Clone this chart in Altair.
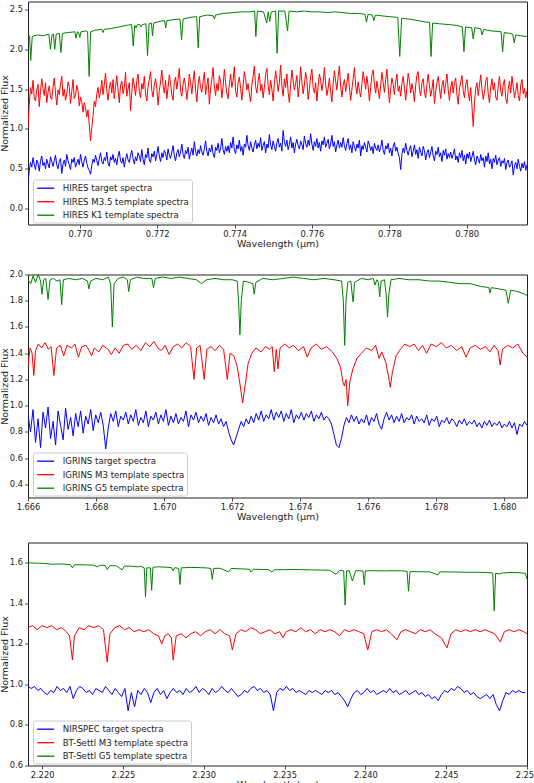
import altair as alt
import pandas as pd
import numpy as np

FONT = "DejaVu Sans"
COLORS = ["#0000ff", "#ff0000", "#008000"]
TXT = "#222222"

# ---------------- Panel 1 : HIRES ----------------
hires_names = ["HIRES target spectra", "HIRES M3.5 template spectra", "HIRES K1 template spectra"]
hires_xdom = [0.76866, 0.78156]
hires_ydom = [-0.2, 2.6]
hires_xticks = [0.770, 0.772, 0.774, 0.776, 0.778, 0.780]
hires_yticks = [0.0, 0.5, 1.0, 1.5, 2.0, 2.5]

hires_target = [
    0.33, 0.48, 0.58, 0.52, 0.64, 0.55, 0.49, 0.61, 0.57, 0.47, 0.60, 0.66, 0.54, 0.58, 0.50, 0.62, 0.56, 0.51, 0.65, 0.59,
    0.53, 0.60, 0.67, 0.55, 0.50, 0.59, 0.63, 0.44, 0.56, 0.61, 0.53, 0.68, 0.60, 0.55, 0.49, 0.62, 0.58, 0.64, 0.52, 0.57,
    0.62, 0.55, 0.68, 0.59, 0.52, 0.61, 0.66, 0.57, 0.51, 0.48, 0.43, 0.54, 0.62, 0.58, 0.67, 0.60, 0.54, 0.63, 0.70, 0.59,
    0.56, 0.64, 0.60, 0.71, 0.57, 0.53, 0.65, 0.61, 0.68, 0.58, 0.63, 0.55, 0.66, 0.72, 0.60, 0.57, 0.64, 0.52, 0.62, 0.69,
    0.61, 0.58, 0.67, 0.73, 0.63, 0.56, 0.65, 0.60, 0.70, 0.66, 0.59, 0.74, 0.62, 0.55, 0.68, 0.64, 0.76, 0.61, 0.58, 0.69,
    0.65, 0.72, 0.60, 0.68, 0.78, 0.66, 0.59, 0.70, 0.64, 0.73, 0.69, 0.61, 0.75, 0.67, 0.63, 0.71, 0.79, 0.66, 0.60, 0.70,
    0.74, 0.65, 0.71, 0.81, 0.68, 0.63, 0.73, 0.69, 0.77, 0.62, 0.70, 0.76, 0.67, 0.84, 0.72, 0.66, 0.74, 0.69, 0.79, 0.71,
    0.67, 0.75, 0.85, 0.72, 0.66, 0.76, 0.71, 0.80, 0.69, 0.64, 0.77, 0.73, 0.82, 0.70, 0.75, 0.88, 0.74, 0.68, 0.78, 0.72,
    0.79, 0.70, 0.83, 0.76, 0.90, 0.74, 0.69, 0.80, 0.75, 0.86, 0.72, 0.78, 0.67, 0.81, 0.77, 0.92, 0.79, 0.73, 0.84, 0.76,
    0.71, 0.80, 0.86, 0.75, 0.82, 0.77, 0.89, 0.73, 0.79, 0.84, 0.70, 0.81, 0.76, 0.93, 0.80, 0.74, 0.85, 0.78, 0.72, 0.83,
    0.88, 0.77, 0.82, 0.72, 0.98, 0.84, 0.78, 0.86, 0.74, 0.80, 0.90, 0.76, 0.83, 0.70, 0.81, 0.87, 0.79, 0.75, 0.85, 0.80,
    0.74, 0.91, 0.82, 0.77, 0.86, 0.79, 0.94, 0.81, 0.73, 0.84, 0.78, 0.88, 0.76, 0.83, 0.72, 0.85, 0.80, 0.90, 0.77, 0.82,
    0.87, 0.75, 0.81, 0.92, 0.78, 0.84, 0.71, 0.80, 0.86, 0.76, 0.83, 0.77, 0.89, 0.79, 0.73, 0.82, 0.88, 0.74, 0.80, 0.70,
    0.84, 0.78, 0.72, 0.81, 0.76, 0.86, 0.66, 0.79, 0.74, 0.83, 0.77, 0.71, 0.85, 0.80, 0.73, 0.78, 0.69, 0.82, 0.76, 0.73,
    0.80, 0.71, 0.77, 0.86, 0.73, 0.68, 0.79, 0.75, 0.82, 0.70, 0.76, 0.66, 0.78, 0.83, 0.72, 0.77, 0.69, 0.64, 0.49, 0.68,
    0.76, 0.70, 0.82, 0.73, 0.67, 0.75, 0.79, 0.65, 0.72, 0.80, 0.68, 0.74, 0.63, 0.77, 0.71, 0.66, 0.78, 0.73, 0.61, 0.70,
    0.74, 0.64, 0.71, 0.78, 0.66, 0.60, 0.72, 0.68, 0.77, 0.65, 0.70, 0.59, 0.73, 0.67, 0.75, 0.62, 0.69, 0.64, 0.71, 0.63,
    0.68, 0.75, 0.61, 0.66, 0.58, 0.70, 0.64, 0.73, 0.60, 0.67, 0.56, 0.69, 0.63, 0.71, 0.59, 0.65, 0.72, 0.61, 0.55, 0.66,
    0.62, 0.57, 0.68, 0.60, 0.64, 0.52, 0.66, 0.59, 0.70, 0.56, 0.62, 0.50, 0.63, 0.58, 0.67, 0.55, 0.61, 0.64, 0.53, 0.60,
    0.57, 0.63, 0.49, 0.58, 0.61, 0.52, 0.55, 0.60, 0.42, 0.54, 0.58, 0.50, 0.62, 0.53, 0.47, 0.57, 0.51, 0.59, 0.48, 0.55,
]

hires_m35 = [
    1.02, 1.31, 1.52, 1.44, 1.61, 1.39, 1.35, 1.49, 1.56, 1.28, 1.47, 1.63, 1.51, 1.42, 1.58, 1.33, 1.46, 1.54, 1.40, 1.37,
    1.52, 1.64, 1.45, 1.30, 1.49, 1.43, 1.57, 1.66, 1.41, 1.50, 1.36, 1.44, 1.59, 1.53, 1.32, 1.47, 1.62, 1.38, 1.42, 1.55,
    1.48, 1.29, 1.40, 1.34, 1.21, 1.33, 1.27, 1.15, 1.24, 1.05, 0.85, 1.02, 1.16, 1.35, 1.28, 1.44, 1.52, 1.39, 1.47, 1.61,
    1.43, 1.56, 1.70, 1.48, 1.36, 1.51, 1.59, 1.45, 1.62, 1.38, 1.53, 1.67, 1.49, 1.33, 1.55, 1.60, 1.44, 1.52, 1.71, 1.41,
    1.50, 1.58, 1.23, 1.46, 1.64, 1.54, 1.42, 1.61, 1.69, 1.47, 1.39, 1.57, 1.50, 1.66, 1.44, 1.35, 1.53, 1.62, 1.72, 1.48,
    1.40, 1.56, 1.63, 1.51, 1.30, 1.48, 1.59, 1.74, 1.55, 1.45, 1.61, 1.38, 1.52, 1.68, 1.57, 1.43, 1.36, 1.58, 1.65, 1.50,
    1.62, 1.76, 1.47, 1.41, 1.56, 1.64, 1.53, 1.37, 1.50, 1.69, 1.58, 1.44, 1.60, 1.73, 1.49, 1.34, 1.55, 1.66, 1.52, 1.46,
    1.59, 1.71, 1.43, 1.55, 1.64, 1.31, 1.50, 1.62, 1.77, 1.54, 1.42, 1.57, 1.48, 1.67, 1.60, 1.39, 1.53, 1.75, 1.58, 1.45,
    1.38, 1.56, 1.69, 1.52, 1.61, 1.78, 1.47, 1.40, 1.58, 1.65, 1.51, 1.36, 1.54, 1.72, 1.63, 1.49, 1.57, 1.44, 1.34, 1.55,
    1.66, 1.79, 1.53, 1.45, 1.60, 1.70, 1.48, 1.56, 1.39, 1.52, 1.68, 1.76, 1.55, 1.43, 1.61, 1.50, 1.35, 1.57, 1.73, 1.62,
    1.47, 1.58, 1.80, 1.54, 1.41, 1.63, 1.52, 1.69, 1.46, 1.33, 1.56, 1.74, 1.60, 1.49, 1.57, 1.67, 1.40, 1.53, 1.78, 1.59,
    1.44, 1.55, 1.71, 1.62, 1.37, 1.50, 1.66, 1.75, 1.52, 1.45, 1.58, 1.35, 1.54, 1.69, 1.61, 1.48, 1.59, 1.77, 1.56, 1.42,
    1.51, 1.64, 1.46, 1.34, 1.57, 1.73, 1.60, 1.49, 1.66, 1.79, 1.53, 1.40, 1.55, 1.62, 1.47, 1.58, 1.70, 1.52, 1.36, 1.50,
    1.63, 1.77, 1.55, 1.44, 1.59, 1.48, 1.40, 1.57, 1.72, 1.61, 1.50, 1.66, 1.53, 1.35, 1.52, 1.68, 1.74, 1.56, 1.45, 1.60,
    1.49, 1.38, 1.55, 1.71, 1.58, 1.46, 1.62, 1.75, 1.52, 1.33, 1.50, 1.64, 1.56, 1.43, 1.59, 1.69, 1.47, 1.54, 1.41, 1.57,
    1.66, 1.51, 1.36, 1.53, 1.70, 1.60, 1.45, 1.57, 1.48, 1.34, 1.55, 1.68, 1.72, 1.50, 1.42, 1.58, 1.63, 1.46, 1.39, 1.56,
    1.69, 1.54, 1.41, 1.50, 1.62, 1.32, 1.47, 1.58, 1.66, 1.52, 1.38, 1.55, 1.61, 1.44, 1.57, 1.69, 1.49, 1.36, 1.52, 1.60,
    1.45, 1.58, 1.64, 1.43, 1.31, 1.50, 1.59, 1.67, 1.48, 1.39, 1.56, 1.62, 1.46, 1.35, 1.52, 1.28, 1.03, 1.33, 1.51, 1.58,
    1.42, 1.55, 1.68, 1.50, 1.37, 1.46, 1.60, 1.65, 1.44, 1.33, 1.53, 1.63, 1.49, 1.58, 1.40, 1.36, 1.54, 1.66, 1.47, 1.41,
    1.56, 1.62, 1.38, 1.32, 1.50, 1.60, 1.45, 1.66, 1.53, 1.39, 1.47, 1.58, 1.42, 1.35, 1.55, 1.62, 1.44, 1.51, 1.39, 1.48,
]

hires_k1 = [
    (0.76866, 2.15), (0.76870, 2.17), (0.76873, 1.86), (0.76877, 2.16), (0.76890, 2.18),
    (0.76905, 2.17), (0.76920, 2.19), (0.76924, 2.00), (0.76928, 2.18), (0.76932, 2.19),
    (0.76935, 2.00), (0.76939, 2.19), (0.76947, 2.20), (0.76951, 1.96), (0.76955, 2.20),
    (0.76970, 2.21), (0.76987, 2.22), (0.76990, 2.14), (0.76994, 2.22), (0.76997, 2.21),
    (0.77000, 2.15), (0.77003, 2.22), (0.77015, 2.23), (0.77020, 2.22), (0.77024, 1.66),
    (0.77028, 2.22), (0.77040, 2.24), (0.77057, 2.25), (0.77060, 2.21), (0.77063, 2.25),
    (0.77080, 2.26), (0.77100, 2.28), (0.77120, 2.30), (0.77134, 2.31), (0.77138, 2.04),
    (0.77142, 2.30), (0.77145, 2.27), (0.77149, 2.31), (0.77155, 2.31), (0.77158, 2.28),
    (0.77161, 2.31), (0.77171, 2.32), (0.77175, 1.92), (0.77179, 2.32), (0.77185, 2.33),
    (0.77188, 2.17), (0.77191, 2.33), (0.77205, 2.35), (0.77219, 2.36), (0.77222, 2.27),
    (0.77225, 2.36), (0.77240, 2.37), (0.77259, 2.38), (0.77263, 2.12), (0.77267, 2.38),
    (0.77285, 2.40), (0.77302, 2.41), (0.77306, 2.02), (0.77310, 2.41), (0.77330, 2.43),
    (0.77345, 2.42), (0.77348, 2.38), (0.77351, 2.43), (0.77370, 2.45), (0.77395, 2.46),
    (0.77420, 2.47), (0.77440, 2.47), (0.77452, 2.48), (0.77455, 2.16), (0.77459, 2.48),
    (0.77475, 2.47), (0.77483, 2.33), (0.77487, 2.47), (0.77491, 2.35), (0.77495, 2.47),
    (0.77506, 2.48), (0.77510, 1.95), (0.77514, 2.48), (0.77530, 2.48), (0.77537, 2.23),
    (0.77541, 2.48), (0.77560, 2.47), (0.77580, 2.48), (0.77600, 2.47), (0.77620, 2.47),
    (0.77640, 2.46), (0.77660, 2.47), (0.77680, 2.46), (0.77700, 2.45), (0.77720, 2.45),
    (0.77737, 2.44), (0.77741, 2.34), (0.77745, 2.44), (0.77756, 2.43), (0.77760, 2.36),
    (0.77764, 2.43), (0.77780, 2.42), (0.77800, 2.41), (0.77822, 2.40), (0.77827, 1.91),
    (0.77832, 2.39), (0.77850, 2.38), (0.77875, 2.36), (0.77895, 2.34), (0.77904, 2.34),
    (0.77908, 1.91), (0.77912, 2.33), (0.77930, 2.32), (0.77955, 2.31), (0.77975, 2.30),
    (0.77989, 2.28), (0.77993, 1.97), (0.77997, 2.28), (0.78013, 2.27), (0.78017, 2.13),
    (0.78021, 2.27), (0.78036, 2.26), (0.78040, 2.18), (0.78044, 2.25), (0.78065, 2.23),
    (0.78089, 2.22), (0.78093, 1.97), (0.78097, 2.21), (0.78110, 2.20), (0.78119, 2.19),
    (0.78123, 2.08), (0.78127, 2.18), (0.78140, 2.17), (0.78156, 2.16),
]

# ---------------- Panel 2 : IGRINS ----------------
igrins_names = ["IGRINS target spectra", "IGRINS M3 template spectra", "IGRINS G5 template spectra"]
igrins_xdom = [1.666, 1.68067]
igrins_ydom = [0.3, 2.0]
igrins_xticks = [1.666, 1.668, 1.670, 1.672, 1.674, 1.676, 1.678, 1.680]
igrins_yticks = [0.4, 0.6, 0.8, 1.0, 1.2, 1.4, 1.6, 1.8, 2.0]

igrins_target = [
    0.93, 0.80, 0.97, 0.72, 0.90, 0.68, 0.95, 0.83, 0.99, 0.75,
    0.88, 0.70, 0.96, 0.85, 0.74, 0.98, 0.82, 0.91, 0.77, 0.94,
    0.84, 0.96, 0.79, 0.92, 0.86, 0.97, 0.81, 0.93, 0.87, 0.95,
    0.85, 0.67, 0.83, 0.94, 0.88, 0.96, 0.84, 0.92, 0.89, 0.95,
    0.86, 0.93, 0.88, 0.97, 0.85, 0.91, 0.87, 0.96, 0.84, 0.92,
    0.89, 0.95, 0.86, 0.93, 0.88, 0.97, 0.85, 0.92, 0.87, 0.94,
    0.86, 0.91, 0.88, 0.96, 0.84, 0.93, 0.89, 0.95, 0.87, 0.92,
    0.88, 0.94, 0.85, 0.91, 0.87, 0.93, 0.86, 0.90, 0.84, 0.88,
    0.80, 0.74, 0.70, 0.76, 0.82, 0.88, 0.84, 0.90, 0.86, 0.92,
    0.87, 0.94, 0.89, 0.96, 0.88, 0.93, 0.90, 0.97, 0.89, 0.95,
    0.91, 0.96, 0.88, 0.94, 0.90, 0.97, 0.87, 0.93, 0.90, 0.95,
    0.89, 0.94, 0.91, 0.96, 0.88, 0.93, 0.90, 0.95, 0.89, 0.92,
    0.90, 0.86, 0.78, 0.70, 0.68, 0.75, 0.85, 0.91, 0.87, 0.93,
    0.88, 0.92, 0.86, 0.90, 0.87, 0.93, 0.85, 0.91, 0.88, 0.94,
    0.86, 0.82, 0.90, 0.95, 0.89, 0.93, 0.87, 0.92, 0.88, 0.94,
    0.87, 0.91, 0.89, 0.93, 0.86, 0.92, 0.88, 0.90, 0.87, 0.93,
    0.85, 0.90, 0.88, 0.92, 0.84, 0.89, 0.87, 0.91, 0.86, 0.90,
    0.88, 0.84, 0.89, 0.86, 0.90, 0.85, 0.88, 0.86, 0.89, 0.84,
    0.87, 0.83, 0.88, 0.85, 0.89, 0.84, 0.87, 0.85, 0.88, 0.83,
    0.86, 0.84, 0.88, 0.83, 0.87, 0.78, 0.86, 0.84, 0.88, 0.85,
]

igrins_m3 = [
    (1.66600, 1.30), (1.66606, 1.44), (1.66612, 1.40), (1.66617, 1.23), (1.66622, 1.42),
    (1.66630, 1.47), (1.66640, 1.44), (1.66650, 1.48), (1.66660, 1.43), (1.66668, 1.45),
    (1.66676, 1.23), (1.66684, 1.44), (1.66695, 1.46), (1.66705, 1.38), (1.66715, 1.46),
    (1.66728, 1.44), (1.66738, 1.47), (1.66748, 1.37), (1.66758, 1.45), (1.66770, 1.46),
    (1.66780, 1.42), (1.66787, 1.38), (1.66795, 1.44), (1.66808, 1.41), (1.66820, 1.46),
    (1.66835, 1.43), (1.66845, 1.39), (1.66856, 1.44), (1.66868, 1.40), (1.66880, 1.46),
    (1.66893, 1.47), (1.66905, 1.43), (1.66918, 1.46), (1.66932, 1.42), (1.66945, 1.48),
    (1.66958, 1.45), (1.66970, 1.49), (1.66982, 1.44), (1.66992, 1.42), (1.67003, 1.46),
    (1.67015, 1.39), (1.67027, 1.45), (1.67040, 1.47), (1.67052, 1.44), (1.67065, 1.48),
    (1.67078, 1.45), (1.67088, 1.20), (1.67096, 1.44), (1.67106, 1.46), (1.67118, 1.20),
    (1.67126, 1.43), (1.67138, 1.45), (1.67150, 1.42), (1.67163, 1.46), (1.67175, 1.43),
    (1.67186, 1.20), (1.67194, 1.40), (1.67205, 1.38), (1.67215, 1.30), (1.67224, 1.15),
    (1.67231, 1.02), (1.67238, 1.15), (1.67247, 1.32), (1.67258, 1.40), (1.67270, 1.44),
    (1.67285, 1.41), (1.67298, 1.45), (1.67310, 1.43), (1.67318, 1.45), (1.67324, 1.26),
    (1.67330, 1.43), (1.67335, 1.28), (1.67341, 1.44), (1.67355, 1.47), (1.67368, 1.44),
    (1.67380, 1.46), (1.67395, 1.42), (1.67410, 1.45), (1.67421, 1.37), (1.67432, 1.44),
    (1.67448, 1.47), (1.67462, 1.43), (1.67478, 1.45), (1.67495, 1.41), (1.67508, 1.36),
    (1.67518, 1.30), (1.67526, 1.18), (1.67530, 1.15), (1.67535, 1.20), (1.67540, 1.00),
    (1.67546, 1.18), (1.67555, 1.28), (1.67567, 1.36), (1.67580, 1.40), (1.67595, 1.44),
    (1.67610, 1.42), (1.67622, 1.46), (1.67632, 1.36), (1.67640, 1.41), (1.67652, 1.33),
    (1.67660, 1.22), (1.67665, 1.14), (1.67671, 1.25), (1.67682, 1.38), (1.67695, 1.43),
    (1.67708, 1.47), (1.67722, 1.45), (1.67735, 1.47), (1.67748, 1.42), (1.67760, 1.46),
    (1.67772, 1.40), (1.67785, 1.47), (1.67800, 1.45), (1.67815, 1.48), (1.67830, 1.44),
    (1.67845, 1.46), (1.67860, 1.42), (1.67875, 1.45), (1.67888, 1.37), (1.67900, 1.44),
    (1.67915, 1.46), (1.67930, 1.43), (1.67945, 1.45), (1.67958, 1.41), (1.67970, 1.46),
    (1.67982, 1.42), (1.67988, 1.31), (1.67995, 1.43), (1.68010, 1.46), (1.68025, 1.44),
    (1.68040, 1.47), (1.68055, 1.40), (1.68067, 1.37),
]

igrins_g5 = [
    (1.66600, 1.96), (1.66608, 1.93), (1.66615, 1.99), (1.66622, 1.94), (1.66630, 2.00),
    (1.66637, 1.95), (1.66641, 1.85), (1.66646, 1.96), (1.66652, 1.97), (1.66659, 1.81),
    (1.66665, 1.96), (1.66675, 1.97), (1.66685, 1.95), (1.66694, 1.96), (1.66699, 1.77),
    (1.66704, 1.96), (1.66720, 1.97), (1.66740, 1.96), (1.66760, 1.97), (1.66775, 1.95),
    (1.66779, 1.89), (1.66784, 1.95), (1.66800, 1.97), (1.66820, 1.96), (1.66836, 1.98),
    (1.66843, 1.93), (1.66848, 1.60), (1.66853, 1.93), (1.66865, 1.97), (1.66880, 1.98),
    (1.66892, 1.96), (1.66896, 1.87), (1.66901, 1.96), (1.66920, 1.98), (1.66940, 1.97),
    (1.66964, 1.97), (1.66969, 1.90), (1.66974, 1.97), (1.66995, 1.98), (1.67020, 1.97),
    (1.67045, 1.98), (1.67070, 1.97), (1.67095, 1.96), (1.67110, 1.93), (1.67125, 1.96),
    (1.67150, 1.97), (1.67175, 1.96), (1.67200, 1.96), (1.67215, 1.95), (1.67219, 1.80),
    (1.67223, 1.54), (1.67227, 1.80), (1.67233, 1.95), (1.67250, 1.94), (1.67261, 1.93),
    (1.67265, 1.85), (1.67270, 1.94), (1.67290, 1.97), (1.67320, 1.96), (1.67350, 1.97),
    (1.67380, 1.98), (1.67410, 1.97), (1.67440, 1.96), (1.67470, 1.97), (1.67500, 1.96),
    (1.67522, 1.95), (1.67527, 1.80), (1.67531, 1.46), (1.67535, 1.80), (1.67540, 1.94),
    (1.67549, 1.95), (1.67553, 1.85), (1.67556, 1.79), (1.67560, 1.94), (1.67580, 1.97),
    (1.67600, 1.96), (1.67615, 1.97), (1.67620, 1.92), (1.67626, 1.96), (1.67630, 1.94),
    (1.67634, 1.83), (1.67638, 1.95), (1.67648, 1.96), (1.67653, 1.85), (1.67657, 1.675),
    (1.67661, 1.85), (1.67667, 1.96), (1.67690, 1.97), (1.67720, 1.96), (1.67750, 1.96),
    (1.67780, 1.95), (1.67810, 1.95), (1.67840, 1.94), (1.67870, 1.93), (1.67900, 1.93),
    (1.67930, 1.91), (1.67955, 1.90), (1.67958, 1.86), (1.67962, 1.90), (1.67985, 1.89),
    (1.68005, 1.88), (1.68012, 1.78), (1.68019, 1.88), (1.68040, 1.87), (1.68060, 1.85),
    (1.68067, 1.84),
]

# ---------------- Panel 3 : NIRSPEC / BT-Settl ----------------
nirspec_names = ["NIRSPEC target spectra", "BT-Settl M3 template spectra", "BT-Settl G5 template spectra"]
nirspec_xdom = [2.21913, 2.2500]
nirspec_ydom = [0.6, 1.7]
nirspec_xticks = [2.220, 2.225, 2.230, 2.235, 2.240, 2.245, 2.250]
nirspec_yticks = [0.6, 0.8, 1.0, 1.2, 1.4, 1.6]
nirspec_grid = [2.21913, 2.2499]

nirspec_target = [
    0.99, 0.98, 0.99, 0.97, 0.98, 0.96, 0.95, 0.97, 0.96, 0.99,
    0.97, 0.98, 0.96, 0.99, 0.93, 0.97, 0.99, 0.98, 0.96, 0.97,
    0.95, 0.98, 0.97, 0.96, 0.99, 0.97, 0.95, 0.98, 0.96, 0.94,
    0.98, 0.87, 0.96, 0.89, 0.97, 0.95, 0.98, 0.96, 0.91, 0.96,
    0.98, 0.95, 0.97, 0.93, 0.96, 0.98, 0.96, 0.97, 0.95, 0.98,
    0.96, 0.97, 0.99, 0.96, 0.98, 0.97, 0.95, 0.98, 0.96, 0.97,
    0.99, 0.97, 0.96, 0.98, 0.96, 0.94, 0.95, 0.97, 0.96, 0.98,
    0.99, 0.97, 0.98, 0.96, 0.97, 0.95, 0.87, 0.96, 0.98, 0.97,
    0.99, 0.97, 0.98, 0.96, 0.97, 0.96, 0.95, 0.97, 0.96, 0.97,
    0.96, 0.95, 0.97, 0.96, 0.97, 0.95, 0.96, 0.94, 0.92, 0.89,
    0.93, 0.96, 0.97, 0.95, 0.96, 0.98, 0.96, 0.97, 0.95, 0.96,
    0.97, 0.96, 0.98, 0.96, 0.97, 0.95, 0.96, 0.97, 0.95, 0.96,
    0.97, 0.95, 0.96, 0.94, 0.95, 0.93, 0.94, 0.92, 0.95, 0.97,
    0.96, 0.98, 0.97, 0.99, 0.98, 0.96, 0.97, 0.95, 0.96, 0.94,
    0.93, 0.94, 0.95, 0.93, 0.95, 0.90, 0.87, 0.92, 0.96, 0.95,
    0.97, 0.96, 0.97, 0.96, 0.96,
]

nirspec_m3 = [
    (2.21913, 1.28), (2.2194, 1.29), (2.2197, 1.27), (2.2200, 1.29), (2.2203, 1.28),
    (2.2206, 1.29), (2.2209, 1.27), (2.2212, 1.28), (2.2215, 1.26), (2.2217, 1.24),
    (2.22188, 1.12), (2.2220, 1.24), (2.2223, 1.28), (2.2226, 1.27), (2.2229, 1.29),
    (2.2232, 1.28), (2.2235, 1.29), (2.2238, 1.27), (2.22403, 1.11), (2.2242, 1.25),
    (2.2245, 1.28), (2.2248, 1.29), (2.2251, 1.27), (2.2254, 1.28), (2.2257, 1.26),
    (2.2260, 1.27), (2.2263, 1.26), (2.2266, 1.27), (2.2269, 1.25), (2.2272, 1.24),
    (2.2274, 1.20), (2.2276, 1.24), (2.2278, 1.25), (2.2280, 1.23), (2.22811, 1.12),
    (2.2283, 1.24), (2.2286, 1.25), (2.2289, 1.23), (2.2292, 1.25), (2.2295, 1.26),
    (2.2298, 1.24), (2.2301, 1.26), (2.2304, 1.27), (2.2307, 1.25), (2.2310, 1.27),
    (2.2313, 1.25), (2.2316, 1.24), (2.23177, 1.17), (2.2320, 1.25), (2.2323, 1.27),
    (2.2326, 1.26), (2.2329, 1.28), (2.2332, 1.27), (2.2335, 1.25), (2.2338, 1.26),
    (2.2341, 1.27), (2.2344, 1.25), (2.2347, 1.26), (2.2349, 1.23), (2.2351, 1.26),
    (2.2354, 1.27), (2.2357, 1.26), (2.2360, 1.28), (2.2363, 1.26), (2.2366, 1.27),
    (2.2369, 1.25), (2.2372, 1.27), (2.2375, 1.26), (2.2378, 1.27), (2.2381, 1.26),
    (2.2384, 1.24), (2.2387, 1.27), (2.2390, 1.26), (2.2393, 1.27), (2.2396, 1.26),
    (2.2399, 1.25), (2.24015, 1.17), (2.2404, 1.26), (2.2407, 1.27), (2.2410, 1.26),
    (2.2413, 1.27), (2.2416, 1.25), (2.24195, 1.22), (2.2422, 1.26), (2.2425, 1.27),
    (2.2428, 1.26), (2.2431, 1.25), (2.2434, 1.27), (2.2437, 1.26), (2.2440, 1.27),
    (2.2443, 1.25), (2.2447, 1.23), (2.24505, 1.18), (2.2453, 1.25), (2.2456, 1.27),
    (2.2459, 1.26), (2.2462, 1.27), (2.2465, 1.26), (2.2468, 1.27), (2.2471, 1.26),
    (2.2474, 1.27), (2.2477, 1.26), (2.2480, 1.25), (2.24835, 1.21), (2.2486, 1.26),
    (2.2489, 1.27), (2.2492, 1.26), (2.2495, 1.27), (2.2498, 1.26), (2.2500, 1.25),
]

nirspec_g5 = [
    (2.21913, 1.600), (2.2196, 1.598), (2.2201, 1.597), (2.2206, 1.593), (2.2212, 1.594),
    (2.22175, 1.591), (2.22188, 1.575), (2.2220, 1.590), (2.2226, 1.590), (2.2232, 1.588),
    (2.22341, 1.580), (2.2236, 1.588), (2.2239, 1.587), (2.22403, 1.567), (2.2242, 1.586),
    (2.2246, 1.585), (2.22495, 1.565), (2.2251, 1.584), (2.2256, 1.583), (2.2259, 1.580),
    (2.2261, 1.583), (2.22632, 1.575), (2.2264, 1.432), (2.22648, 1.575), (2.22670, 1.575),
    (2.22678, 1.464), (2.22686, 1.578), (2.2272, 1.580), (2.2277, 1.578), (2.2280, 1.576),
    (2.22811, 1.560), (2.2282, 1.576), (2.22845, 1.572), (2.22853, 1.493), (2.22861, 1.575),
    (2.2292, 1.577), (2.2298, 1.576), (2.2303, 1.574), (2.23045, 1.570), (2.23053, 1.518),
    (2.23062, 1.572), (2.2310, 1.573), (2.23154, 1.555), (2.2317, 1.572), (2.2323, 1.570),
    (2.23285, 1.568), (2.2329, 1.555), (2.2331, 1.568), (2.2336, 1.567), (2.2340, 1.566),
    (2.23421, 1.555), (2.2344, 1.566), (2.2350, 1.566), (2.2355, 1.567), (2.2360, 1.566),
    (2.2366, 1.565), (2.2372, 1.564), (2.2378, 1.563), (2.23819, 1.543), (2.2384, 1.562),
    (2.23866, 1.560), (2.23875, 1.391), (2.23884, 1.560), (2.2390, 1.561), (2.2392, 1.510),
    (2.2394, 1.561), (2.23985, 1.560), (2.23994, 1.490), (2.2400, 1.560), (2.2405, 1.561),
    (2.2412, 1.560), (2.2418, 1.561), (2.2423, 1.560), (2.24258, 1.558), (2.24267, 1.460),
    (2.24276, 1.556), (2.2432, 1.556), (2.2440, 1.555), (2.24449, 1.540), (2.2446, 1.555),
    (2.2452, 1.555), (2.2458, 1.554), (2.2464, 1.553), (2.2470, 1.553), (2.2475, 1.552),
    (2.24788, 1.550), (2.24797, 1.362), (2.24806, 1.548), (2.2483, 1.545), (2.2485, 1.550),
    (2.2490, 1.552), (2.2495, 1.551), (2.2499, 1.548), (2.2500, 1.520),
]


def grid_frame(values, x0, x1, name):
    wl = np.linspace(x0, x1, len(values))
    return pd.DataFrame({"wl": wl, "flux": values, "series": name})


def pair_frame(pairs, name):
    return pd.DataFrame({"wl": [p[0] for p in pairs], "flux": [p[1] for p in pairs], "series": name})


df1 = pd.concat([
    grid_frame(hires_target, hires_xdom[0], hires_xdom[1], hires_names[0]),
    grid_frame(hires_m35, hires_xdom[0], hires_xdom[1], hires_names[1]),
    pair_frame(hires_k1, hires_names[2]),
])
df2 = pd.concat([
    grid_frame(igrins_target, igrins_xdom[0], igrins_xdom[1], igrins_names[0]),
    pair_frame(igrins_m3, igrins_names[1]),
    pair_frame(igrins_g5, igrins_names[2]),
])
df3 = pd.concat([
    grid_frame(nirspec_target, nirspec_grid[0], nirspec_grid[1], nirspec_names[0]),
    pair_frame(nirspec_m3, nirspec_names[1]),
    pair_frame(nirspec_g5, nirspec_names[2]),
])

W, H = 499, 223


def panel(df, names, xdom, ydom, xticks, yticks):
    legend = alt.Legend(
        title=None, orient="none", legendX=5, legendY=178,
        padding=2.7, fillColor="rgba(255,255,255,0.85)", strokeColor="#cccccc",
        cornerRadius=2, symbolType="M-0.9,0H2.5", symbolSize=100,
        symbolStrokeWidth=1.3, labelFont=FONT, labelFontSize=8.6,
        labelColor=TXT, labelOffset=15, rowPadding=2.5, labelLimit=300,
    )
    return alt.Chart(df).mark_line(strokeWidth=1, clip=True).encode(
        x=alt.X("wl:Q",
                scale=alt.Scale(domain=xdom, nice=False, zero=False),
                axis=alt.Axis(values=xticks, format=".3f", title="Wavelength (μm)",
                              labelFlush=False, labelOverlap=False)),
        y=alt.Y("flux:Q",
                scale=alt.Scale(domain=ydom, nice=False, zero=False),
                axis=alt.Axis(values=yticks, format=".1f", title="Normalized Flux",
                              labelOverlap=False)),
        color=alt.Color("series:N",
                        scale=alt.Scale(domain=names, range=COLORS),
                        legend=legend),
    ).properties(width=W, height=H)


p1 = panel(df1, hires_names, hires_xdom, hires_ydom, hires_xticks, hires_yticks)
p2 = panel(df2, igrins_names, igrins_xdom, igrins_ydom, igrins_xticks, igrins_yticks)
p3 = panel(df3, nirspec_names, nirspec_xdom, nirspec_ydom, nirspec_xticks, nirspec_yticks)

upper = alt.vconcat(p1, p2, spacing=19).resolve_scale(
    color="independent", x="independent", y="independent")

chart = alt.vconcat(upper, p3, spacing=19).resolve_scale(
    color="independent", x="independent", y="independent"
).properties(
    padding={"left": -2, "top": 0.5, "right": -6, "bottom": -6}
).configure_view(
    stroke=TXT, strokeWidth=1
).configure_axis(
    domain=False, grid=False, ticks=True, tickColor=TXT, tickSize=3.5, tickWidth=0.8,
    labelFont=FONT, labelFontSize=8.3, labelColor=TXT,
    titleFont=FONT, titleFontSize=9.5, titleFontWeight="normal", titleColor=TXT,
).configure_axisX(
    labelPadding=1.5, titlePadding=1
).configure_axisY(
    labelPadding=2, titlePadding=0
)

chart.save("out.html", embed_options={"renderer": "svg", "actions": False})
